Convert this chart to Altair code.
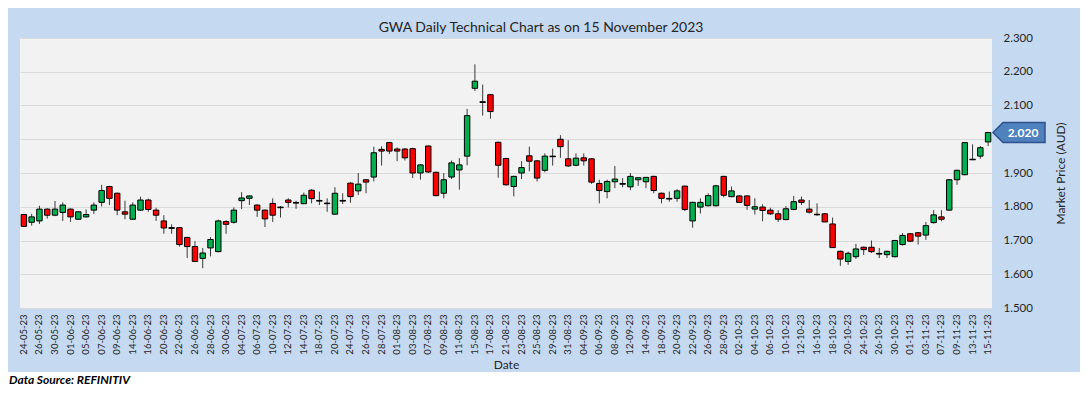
import altair as alt
import pandas as pd

# ---------------- data ----------------
dates = [
    "24-05-23", "25-05-23", "26-05-23", "29-05-23", "30-05-23", "31-05-23",
    "01-06-23", "02-06-23", "05-06-23", "06-06-23", "07-06-23", "08-06-23", "09-06-23",
    "13-06-23", "14-06-23", "15-06-23", "16-06-23", "19-06-23", "20-06-23", "21-06-23",
    "22-06-23", "23-06-23", "26-06-23", "27-06-23", "28-06-23", "29-06-23", "30-06-23",
    "03-07-23", "04-07-23", "05-07-23", "06-07-23", "07-07-23", "10-07-23", "11-07-23",
    "12-07-23", "13-07-23", "14-07-23", "17-07-23", "18-07-23", "19-07-23", "20-07-23",
    "21-07-23", "24-07-23", "25-07-23", "26-07-23", "27-07-23", "28-07-23", "31-07-23",
    "01-08-23", "02-08-23", "03-08-23", "04-08-23", "07-08-23", "08-08-23", "09-08-23",
    "10-08-23", "11-08-23", "14-08-23", "15-08-23", "16-08-23", "17-08-23", "18-08-23",
    "21-08-23", "22-08-23", "23-08-23", "24-08-23", "25-08-23", "28-08-23", "29-08-23",
    "30-08-23", "31-08-23",
    "01-09-23", "04-09-23", "05-09-23", "06-09-23", "07-09-23", "08-09-23", "11-09-23",
    "12-09-23", "13-09-23", "14-09-23", "15-09-23", "18-09-23", "19-09-23", "20-09-23",
    "21-09-23", "22-09-23", "25-09-23", "26-09-23", "27-09-23", "28-09-23", "29-09-23",
    "02-10-23", "03-10-23", "04-10-23", "05-10-23", "06-10-23", "09-10-23", "10-10-23",
    "11-10-23", "12-10-23", "13-10-23", "16-10-23", "17-10-23", "18-10-23", "19-10-23",
    "20-10-23", "23-10-23", "24-10-23", "25-10-23", "26-10-23", "27-10-23", "30-10-23",
    "31-10-23",
    "01-11-23", "02-11-23", "03-11-23", "06-11-23", "07-11-23", "08-11-23", "09-11-23",
    "10-11-23", "13-11-23", "14-11-23", "15-11-23",
]

opens = [
    1.777, 1.754, 1.758, 1.793, 1.775, 1.783, 1.793, 1.763, 1.770, 1.790,
    1.813, 1.860, 1.840, 1.785, 1.763, 1.790, 1.820, 1.790, 1.758, 1.737,
    1.738, 1.709, 1.682, 1.647, 1.678, 1.667, 1.756, 1.754, 1.818, 1.825,
    1.805, 1.790, 1.810, 1.798, 1.820, 1.812, 1.809, 1.849, 1.818, 1.811,
    1.778, 1.818, 1.870, 1.847, 1.880, 1.888, 1.970, 1.990, 1.971, 1.971,
    1.972, 1.900, 1.980, 1.902, 1.840, 1.888, 1.909, 1.950, 2.151, 2.110,
    2.132, 1.991, 1.943, 1.860, 1.900, 1.951, 1.936, 1.908, 1.949, 2.000,
    1.942, 1.923, 1.945, 1.942, 1.869, 1.845, 1.874, 1.868, 1.859, 1.880,
    1.874, 1.890, 1.840, 1.824, 1.825, 1.861, 1.758, 1.799, 1.803, 1.803,
    1.890, 1.830, 1.832, 1.832, 1.793, 1.799, 1.790, 1.779, 1.762, 1.792,
    1.820, 1.793, 1.777, 1.779, 1.749, 1.668, 1.638, 1.652, 1.680, 1.680,
    1.661, 1.658, 1.652, 1.688, 1.720, 1.723, 1.716, 1.753, 1.770, 1.790,
    1.880, 1.895, 1.940, 1.950, 1.992,
]

highs = [
    1.779, 1.779, 1.803, 1.795, 1.817, 1.813, 1.795, 1.787, 1.792, 1.813,
    1.865, 1.862, 1.842, 1.818, 1.813, 1.830, 1.824, 1.797, 1.775, 1.748,
    1.740, 1.711, 1.698, 1.678, 1.710, 1.762, 1.760, 1.798, 1.843, 1.834,
    1.807, 1.792, 1.825, 1.802, 1.825, 1.818, 1.842, 1.852, 1.845, 1.825,
    1.858, 1.840, 1.872, 1.900, 1.882, 1.978, 1.979, 1.992, 1.976, 1.974,
    1.975, 1.926, 1.982, 1.904, 1.900, 1.937, 1.944, 2.090, 2.222, 2.162,
    2.134, 1.993, 1.945, 1.892, 1.935, 1.978, 1.938, 1.958, 1.972, 2.012,
    1.997, 1.958, 1.958, 1.944, 1.880, 1.880, 1.921, 1.885, 1.900, 1.887,
    1.888, 1.892, 1.842, 1.845, 1.852, 1.863, 1.815, 1.825, 1.840, 1.865,
    1.892, 1.860, 1.834, 1.834, 1.825, 1.807, 1.797, 1.790, 1.802, 1.832,
    1.830, 1.820, 1.810, 1.781, 1.768, 1.670, 1.667, 1.690, 1.682, 1.700,
    1.678, 1.670, 1.702, 1.722, 1.722, 1.725, 1.755, 1.790, 1.790, 1.882,
    1.910, 1.992, 1.985, 1.980, 2.022,
]

lows = [
    1.740, 1.744, 1.749, 1.765, 1.772, 1.758, 1.755, 1.761, 1.768, 1.779,
    1.801, 1.805, 1.775, 1.763, 1.761, 1.788, 1.785, 1.758, 1.720, 1.720,
    1.682, 1.648, 1.636, 1.618, 1.653, 1.665, 1.720, 1.750, 1.793, 1.805,
    1.770, 1.740, 1.755, 1.768, 1.798, 1.794, 1.808, 1.810, 1.805, 1.785,
    1.777, 1.808, 1.812, 1.835, 1.840, 1.875, 1.922, 1.956, 1.935, 1.937,
    1.885, 1.880, 1.900, 1.831, 1.825, 1.882, 1.851, 1.923, 2.143, 2.070,
    2.061, 1.886, 1.863, 1.831, 1.882, 1.905, 1.875, 1.902, 1.922, 1.945,
    1.918, 1.920, 1.922, 1.868, 1.810, 1.825, 1.855, 1.858, 1.849, 1.862,
    1.855, 1.840, 1.810, 1.815, 1.815, 1.787, 1.738, 1.780, 1.801, 1.801,
    1.828, 1.828, 1.812, 1.791, 1.777, 1.757, 1.776, 1.755, 1.760, 1.790,
    1.805, 1.780, 1.773, 1.755, 1.678, 1.625, 1.628, 1.645, 1.657, 1.663,
    1.648, 1.648, 1.650, 1.685, 1.695, 1.688, 1.702, 1.750, 1.757, 1.788,
    1.865, 1.893, 1.938, 1.942, 1.980,
]

closes = [
    1.742, 1.770, 1.793, 1.775, 1.793, 1.805, 1.770, 1.785, 1.777, 1.805,
    1.848, 1.825, 1.790, 1.778, 1.805, 1.820, 1.792, 1.775, 1.737, 1.737,
    1.688, 1.682, 1.638, 1.663, 1.703, 1.758, 1.748, 1.790, 1.826, 1.832,
    1.790, 1.764, 1.775, 1.798, 1.813, 1.812, 1.834, 1.824, 1.818, 1.809,
    1.840, 1.818, 1.830, 1.867, 1.873, 1.960, 1.965, 1.965, 1.965, 1.945,
    1.900, 1.924, 1.903, 1.833, 1.880, 1.930, 1.924, 2.070, 2.172, 2.110,
    2.082, 1.923, 1.865, 1.890, 1.916, 1.935, 1.885, 1.950, 1.949, 1.978,
    1.921, 1.944, 1.936, 1.873, 1.848, 1.875, 1.882, 1.868, 1.890, 1.886,
    1.887, 1.848, 1.825, 1.824, 1.847, 1.792, 1.813, 1.813, 1.833, 1.862,
    1.834, 1.847, 1.813, 1.804, 1.800, 1.789, 1.779, 1.763, 1.794, 1.815,
    1.813, 1.784, 1.777, 1.755, 1.679, 1.645, 1.662, 1.675, 1.673, 1.667,
    1.661, 1.668, 1.700, 1.715, 1.698, 1.713, 1.744, 1.776, 1.763, 1.880,
    1.908, 1.990, 1.940, 1.975, 2.020,
]

tick_labels = dates[::2]
y_ticks = [1.5, 1.6, 1.7, 1.8, 1.9, 2.0, 2.1, 2.2, 2.3]

chart_title = "GWA Daily Technical Chart as on 15 November 2023"
source_note = "Data Source: REFINITIV"
y_title = "Market Price (AUD)"
x_title = "Date"

# ---------------- build ----------------
direction = ["up" if c > o else ("down" if c < o else "flat") for o, c in zip(opens, closes)]
df = pd.DataFrame({"date": dates, "open": opens, "high": highs, "low": lows,
                   "close": closes, "dir": direction})
last = df.tail(1)

W, H = 972, 270
FONT = "Lato"

x_enc = alt.X(
    "date:O",
    scale=alt.Scale(type="band", domain=dates, paddingInner=0.3, paddingOuter=0.15),
    axis=alt.Axis(values=tick_labels, labelAngle=-90, labelFontSize=9.5, labelPadding=6,
                  ticks=False, domain=False, title=x_title, titleFontSize=12,
                  titleFontWeight="normal", titlePadding=5),
)
y_scale = alt.Scale(domain=[1.5, 2.3], nice=False, zero=False)
y_axis = alt.Axis(orient="right", values=y_ticks,
                  labelExpr="datum.value == 2 ? '' : format(datum.value, '.3f')",
                  grid=True, gridColor="#D9D9D9", gridWidth=1.2, ticks=False, domain=False,
                  labelPadding=11, labelFontSize=11.5, title=y_title, titleAngle=270,
                  titleBaseline="top", titlePadding=23, titleFontSize=12,
                  titleFontWeight="normal")

base = alt.Chart(df)

wicks = base.mark_rule(color="#3A3A3A", strokeWidth=1).encode(
    x=x_enc, y=alt.Y("low:Q", scale=y_scale, axis=y_axis), y2="high:Q")

bodies = base.mark_bar(stroke="#000000", strokeWidth=1).encode(
    x=x_enc,
    y=alt.Y("open:Q", scale=y_scale, axis=y_axis),
    y2="close:Q",
    color=alt.Color("dir:N", scale=alt.Scale(domain=["up", "down", "flat"],
                                             range=["#00B050", "#FF0000", "#000000"]),
                    legend=None),
)

dojis = base.transform_filter(alt.datum.dir == "flat").mark_tick(
    color="#000000", thickness=1.5, size=6, opacity=1).encode(
    x=x_enc, y=alt.Y("open:Q", scale=y_scale, axis=y_axis))

tag_path = "M -1 0 L -0.615 -0.385 L 1 -0.385 L 1 0.385 L -0.615 0.385 Z"
tag = alt.Chart(last).mark_point(shape=tag_path, size=2704, filled=True, opacity=1,
                                 fill="#4F81BD", stroke="#2F528F", strokeWidth=1.5).encode(
    x=alt.value(W + 27), y=alt.Y("close:Q", scale=y_scale, axis=y_axis))

tag_text = alt.Chart(last).mark_text(color="white", fontWeight="bold", fontSize=12, font=FONT,
                                     align="center", baseline="middle").encode(
    x=alt.value(W + 31), y=alt.Y("close:Q", scale=y_scale, axis=y_axis),
    text=alt.Text("close:Q", format=".3f"))

white_strip = alt.Chart(pd.DataFrame({"k": [0]})).mark_rect(color="white").encode(
    x=alt.value(-20), x2=alt.value(W + 100), y=alt.value(334), y2=alt.value(380))

title_mark = alt.Chart(pd.DataFrame({"t": [chart_title]})).mark_text(
    font=FONT, fontSize=14, color="#262626", align="center", baseline="middle").encode(
    text="t:N", x=alt.value(521), y=alt.value(-10))

source_mark = alt.Chart(pd.DataFrame({"t": [source_note]})).mark_text(
    font=FONT, fontSize=12, fontStyle="italic", fontWeight="bold", color="#000000",
    align="left", baseline="middle").encode(
    text="t:N", x=alt.value(-11), y=alt.value(342))

chart = alt.layer(white_strip, wicks, bodies, dojis, tag, tag_text, title_mark, source_mark).properties(
    width=W, height=H,
    padding={"left": 12, "top": 30, "right": 88, "bottom": 78},
    autosize=alt.AutoSizeParams(type="none"),
    background="#C5D9F1",
).configure_view(fill="#F2F2F2", stroke=None).configure_axis(
    labelFont=FONT, titleFont=FONT, labelColor="#262626", titleColor="#262626")

chart.save("out.html", embed_options={"renderer": "svg", "actions": False})
